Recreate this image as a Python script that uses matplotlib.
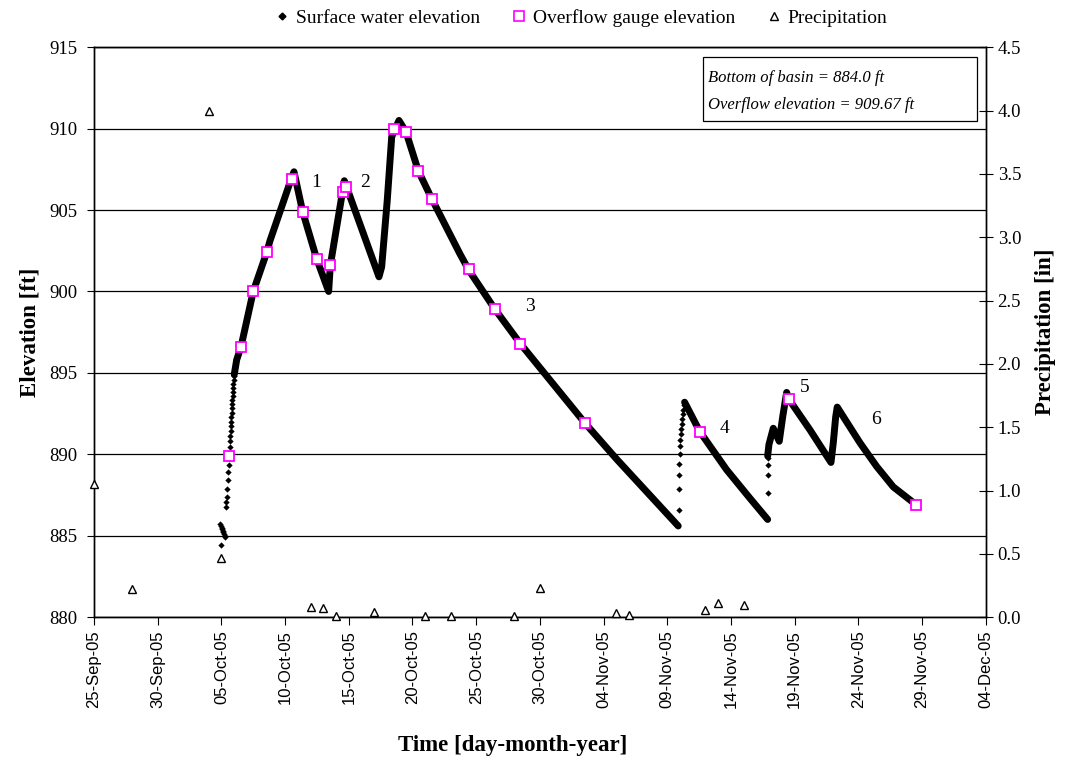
import datetime as dt
import numpy as np
import matplotlib
matplotlib.use('Agg')
import matplotlib.pyplot as plt
import matplotlib.patches as patches
from matplotlib.lines import Line2D
from matplotlib.ticker import MultipleLocator, FuncFormatter

plt.rcParams['font.family'] = 'serif'
plt.rcParams['font.serif'] = ['Liberation Serif', 'DejaVu Serif']

START = dt.datetime(2005, 9, 25)   # x values are days after this date

# surface water elevation, dense (almost continuous) parts [days, ft]
seg1_day = [11.01, 11.20, 11.54, 12.50, 13.56, 13.81, 15.52, 15.70, 16.38, 17.48,
            18.42, 18.55, 19.44, 19.65, 22.37, 22.58, 23.02, 23.37, 23.94,
            24.49, 25.46, 26.51, 28.73, 29.43, 31.48, 33.46, 38.56, 41.03, 45.86]
seg1_elev = [894.9, 895.8, 896.6, 900.0, 902.4, 903.1, 907.0, 907.35, 904.9, 902.0,
             900.0, 901.6, 905.8, 906.8, 900.9, 901.5, 905.6, 909.5, 910.5,
             909.8, 907.4, 905.7, 902.3, 901.3, 898.9, 896.8, 891.9, 889.7, 885.6]
seg2_day = [46.36, 47.55, 49.66, 51.49, 52.88]
seg2_elev = [893.2, 891.4, 889.05, 887.3, 886.0]
seg3_day = [52.88, 52.98, 53.32, 53.79, 54.06, 54.37, 54.53, 56.20, 57.85, 58.03,
            58.22, 58.34, 60.13, 61.44, 62.74, 64.54]
seg3_elev = [889.9, 890.6, 891.6, 890.8, 892.3, 893.8, 893.4, 891.5, 889.5, 890.7,
             892.3, 892.9, 890.7, 889.25, 888.0, 886.9]

# surface water elevation, single readings on the fast rising limbs
dots_day = [9.94, 9.91, 9.96, 10.01, 10.06, 10.11, 10.16, 10.21, 10.27, 10.32,
            10.36, 10.38, 10.42, 10.46, 10.49, 10.53, 10.58, 10.61, 10.64,
            10.66, 10.68, 10.70, 10.72, 10.74, 10.76, 10.78, 10.80, 10.82, 10.84,
            10.86, 10.88, 10.90, 10.92, 10.94, 10.96, 10.98, 11.00,
            45.90, 45.91, 45.93, 45.95, 45.97, 46.00, 46.03, 46.06, 46.10, 46.14,
            46.18, 46.22, 46.26, 46.30,
            52.88, 52.88, 52.88, 52.88]
dots_elev = [884.45, 885.7, 885.6, 885.5, 885.4, 885.3, 885.2, 885.1, 885.0, 884.95,
             886.76, 887.1, 887.4, 887.86, 888.4, 888.9, 889.35, 889.77, 890.1,
             890.44, 890.79, 891.1, 891.41, 891.72, 892.0, 892.3, 892.56, 892.83, 893.1,
             893.34, 893.6, 893.83, 894.08, 894.33, 894.57, 894.82, 895.06,
             886.6, 887.85, 888.75, 889.4, 890.0, 890.5, 890.9, 891.25, 891.55, 891.85,
             892.15, 892.45, 892.75, 893.0,
             887.6, 888.7, 889.35, 889.8]

# overflow gauge readings
gauge_day = [10.62, 11.54, 12.50, 13.56, 15.54, 16.38, 17.48, 18.55, 19.52, 19.78,
             23.55, 24.49, 25.46, 26.51, 29.43, 31.48, 33.46, 38.56, 47.55, 54.53, 64.54]
gauge_elev = [889.9, 896.6, 900.0, 902.4, 906.9, 904.9, 902.0, 901.65, 906.1, 906.4,
              910.0, 909.8, 907.4, 905.7, 901.35, 898.9, 896.8, 891.9, 891.35, 893.4, 886.9]

# daily precipitation [in]
precip_day = [0, 3, 9, 10, 17, 18, 19, 22, 26, 28, 33, 35, 41, 42, 48, 49, 51]
precip_in = [1.05, 0.22, 4.0, 0.47, 0.08, 0.07, 0.01, 0.04, 0.01, 0.01, 0.01, 0.23,
             0.03, 0.015, 0.06, 0.11, 0.10]

# event numbers
event_labels = ['1', '2', '3', '4', '5', '6']
event_day = [17.43, 21.28, 34.2, 49.5, 55.8, 61.4]
event_elev = [906.7, 906.7, 899.1, 891.6, 894.1, 892.15]

fig = plt.figure(figsize=(10.68, 7.61), dpi=100)
ax = fig.add_axes([0.088, 0.189, 0.835, 0.749])
ax2 = ax.twinx()

for d, e in [(seg1_day, seg1_elev), (seg2_day, seg2_elev), (seg3_day, seg3_elev)]:
    ax.plot(d, e, color='black', lw=5, solid_capstyle='round',
            solid_joinstyle='round', zorder=3)
ax.plot(dots_day, dots_elev, 'D', color='black', ms=3.2, mew=0, zorder=3)
ax.plot(gauge_day, gauge_elev, 's', mfc='white', mec='#ff00ff', mew=1.3, ms=7,
        zorder=4)

for lab, d, e in zip(event_labels, event_day, event_elev):
    ax.text(d, e, lab, fontsize=14, ha='center', va='center')

ax.set_xlim(0, 70)
ax.set_ylim(880, 915)
ax.yaxis.set_major_locator(MultipleLocator(5))
ax.xaxis.set_major_locator(MultipleLocator(5))
ax.xaxis.set_major_formatter(FuncFormatter(
    lambda v, pos: (START + dt.timedelta(days=v)).strftime('%d-%b-%y')))
ax.grid(axis='y', color='black', lw=0.9)
ax.set_axisbelow(True)
ax.tick_params(axis='y', direction='out', length=5, pad=7, labelsize=13.5)
ax.tick_params(axis='x', direction='out', length=6, labelsize=12, rotation=90)
for lab in ax.get_xticklabels():
    lab.set_family('Liberation Sans')

ax2.plot(precip_day, precip_in, '^', mfc='white', mec='black', mew=1.0, ms=6,
         clip_on=False, zorder=5)
ax2.set_ylim(0, 4.5)
ax2.yaxis.set_major_locator(MultipleLocator(0.5))
ax2.yaxis.set_major_formatter(FuncFormatter(lambda v, pos: '%.1f' % v))
ax2.tick_params(axis='y', direction='inout', length=10, labelsize=13.5)

for a in (ax, ax2):
    for s in a.spines.values():
        s.set_linewidth(1.0)

ax.set_ylabel('Elevation [ft]', fontsize=16.5, fontweight='bold', labelpad=6)
ax2.set_ylabel('Precipitation [in]', fontsize=16.5, fontweight='bold', labelpad=10)
ax.set_xlabel('Time [day-month-year]', fontsize=16.5, fontweight='bold')
ax.xaxis.set_label_coords(0.469, -0.207)

# info box
ax.add_patch(patches.Rectangle((0.683, 0.870), 0.307, 0.112, transform=ax.transAxes,
                               facecolor='white', edgecolor='black', lw=0.9, zorder=6))
ax.text(0.688, 0.946, 'Bottom of basin = 884.0 ft', transform=ax.transAxes,
        fontsize=12, style='italic', va='center', zorder=7)
ax.text(0.688, 0.899, 'Overflow elevation = 909.67 ft', transform=ax.transAxes,
        fontsize=12, style='italic', va='center', zorder=7)

handles = [
    Line2D([], [], ls='none', marker='D', color='black', ms=3.5),
    Line2D([], [], ls='none', marker='s', mfc='white', mec='#ff00ff', mew=1.2, ms=6.5),
    Line2D([], [], ls='none', marker='^', mfc='white', mec='black', mew=1.0, ms=5.5),
]
fig.legend(handles, ['Surface water elevation', 'Overflow gauge elevation', 'Precipitation'],
           loc='center', bbox_to_anchor=(0.542, 0.976), ncol=3, frameon=False,
           fontsize=14, handletextpad=0.1, columnspacing=1.4, handlelength=1.2)

fig.savefig('out.png', dpi=100)
